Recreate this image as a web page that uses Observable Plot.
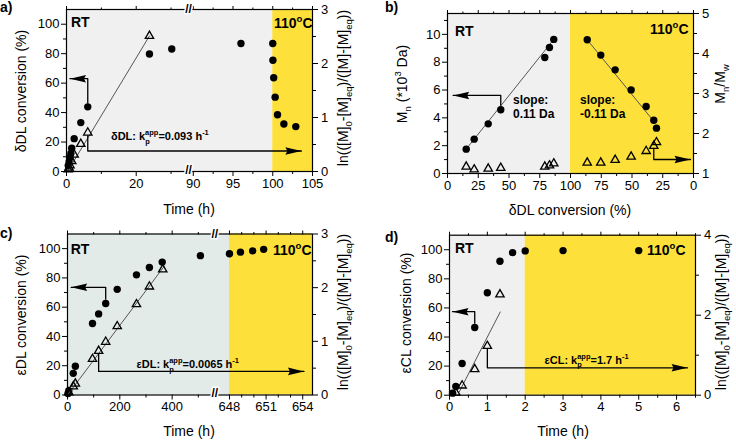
<!DOCTYPE html>
<html><head><meta charset="utf-8">
<script src="https://cdn.jsdelivr.net/npm/d3@7"></script>
<script src="https://cdn.jsdelivr.net/npm/@observablehq/plot@0.6"></script>
<style>
body{margin:0;background:#fff;}
#fig{position:relative;width:736px;height:444px;overflow:hidden;}
.panel{position:absolute;width:368px;height:222px;}
.panel svg{position:absolute;left:0;top:0;}
</style></head><body><div id="fig"></div>
<script>
// ---------- Panel a: δDL, time (h) ----------
const aTime = [0.5, 0.75, 1.0, 1.25, 1.5, 2.2, 4.1, 6.1, 23.8, 30.2, 96, 100, 100.02, 100.12, 100.3, 100.6, 101.4, 102.9];
const aConv = [4, 6.5, 9.5, 12.3, 15.8, 22.3, 33.2, 43.9, 79.8, 83.2, 86.9, 86.9, 75.5, 63.7, 50.5, 38.5, 32.3, 30.5];
const aLnTime = [0.5, 0.75, 1.0, 1.5, 2.2, 4.1, 6.1, 23.8];
const aLn = [0.04, 0.07, 0.11, 0.19, 0.31, 0.51, 0.72, 2.51];
const aFitTime = [0.3, 23.8];
const aFitLn = [0, 2.51];
const aHeatStart = 100, aTimeMax = 105, aBreakLo = 35, aBreakHi = 89.4;
const aXTicks = [0, 20, 90, 95, 100, 105];
const aXMinor = [10, 30, 92.5, 97.5, 102.5];

// ---------- Panel b: Mn and Mn/Mw vs δDL conversion ----------
const bConvRT = [15.2, 21.7, 33.1, 43.3, 79.1, 82.9, 86.4];
const bMnRT = [1.75, 2.47, 3.57, 4.58, 8.34, 9.06, 9.64];
const bPdiRT = [1.17, 1.10, 1.12, 1.14, 1.17, 1.20, 1.25];
const bConvHT = [86.4, 75.4, 63.7, 50.7, 38.5, 32.3, 30.1];
const bMnHT = [9.61, 8.51, 7.45, 6.01, 4.82, 3.83, 3.26];
const bPdiHT = [1.27, 1.27, 1.34, 1.42, 1.56, 1.69, 1.78];
const bFitRTConv = [15.2, 86.4], bFitRTMn = [1.75, 9.64];
const bFitHTConv = [86.4, 31.8], bFitHTMn = [9.61, 3.7];
const bXTicks = [0, 25, 50, 75, 100, 125, 150, 175, 200];
const bXMinor = [12.5, 37.5, 62.5, 87.5, 112.5, 137.5, 162.5, 187.5];

// ---------- Panel c: εDL, time (h) ----------
const cTime = [2, 5, 22, 30, 95.5, 119, 146, 190, 263.6, 313, 362, 508, 648, 648.9, 649.9, 650.8];
const cConv = [1, 2.9, 14.8, 19.6, 48.8, 55.4, 62.5, 72.2, 82.1, 87.1, 90.8, 95.2, 96.5, 97.6, 98.5, 99.5];
const cLnTime = [5, 22, 30, 95.5, 119, 146, 190, 263.6, 313, 364];
const cLn = [0.05, 0.16, 0.21, 0.67, 0.82, 0.99, 1.28, 1.69, 2.02, 2.34];
const cFitTime = [0, 370], cFitLn = [0, 2.4];
const cHeatStart = 648, cTimeMax = 654.8, cBreakLo = 563, cBreakHi = 646.8;
const cXTicks = [0, 200, 400, 648, 651, 654];
const cXMinor = [100, 300, 500, 649, 650, 652, 653];

// ---------- Panel d: εCL, time (h) ----------
const dTime = [0.083, 0.167, 0.333, 0.667, 1, 1.333, 1.667, 2, 3, 5];
const dConv = [1.4, 6, 21.8, 46.5, 70.4, 92.1, 98, 99.2, 99.4, 99.4];
const dLnTime = [0.167, 0.333, 0.667, 1, 1.333];
const dLn = [0.06, 0.24, 0.65, 1.23, 2.52];
const dFitTime = [0.25, 1.34], dFitLn = [0.07, 2.08];
const dHeatStart = 2, dTimeMax = 6.5;
const dXTicks = [0, 1, 2, 3, 4, 5, 6];
const dXMinor = [0.5, 1.5, 2.5, 3.5, 4.5, 5.5, 6.5];

// shared tick lists
const convTicks = [0, 20, 40, 60, 80, 100];
const convMinor = [10, 30, 50, 70, 90];

const FONT = "'Liberation Sans', Arial, Helvetica, sans-serif";
const GRAY = "#f0f0f0", TEAL = "#e3ebe9", YEL = "#fde03a";
const pts = (xs, ys) => xs.map((x, i) => ({x, y: ys[i]}));
const plain = d => String(d);

const headLeft = {draw(c) { c.moveTo(0, 0); c.lineTo(16, -3.8); c.lineTo(14, 0); c.lineTo(16, 3.8); c.closePath(); }};
const headRight = {draw(c) { c.moveTo(0, 0); c.lineTo(-16, -3.8); c.lineTo(-14, 0); c.lineTo(-16, 3.8); c.closePath(); }};

function addText(svg, t) {
  const size = t.size || 14;
  const g = d3.select(svg).append("text")
    .attr("transform", `translate(${t.x},${t.y})${t.rotate ? ` rotate(${t.rotate})` : ""}`)
    .attr("font-family", FONT).attr("font-size", size)
    .attr("font-weight", t.weight || "normal")
    .attr("text-anchor", t.anchor || "start").attr("fill", "black");
  let shift = 0;
  for (const p of t.parts) {
    const [s, kind, back] = Array.isArray(p) ? p : [p];
    const target = kind === "sub" ? 0.32 * size : kind === "sup" ? -0.42 * size : 0;
    const span = g.append("tspan").text(s).attr("dy", target - shift);
    if (kind) span.attr("font-size", 0.68 * size);
    if (back) span.attr("dx", -back * size);
    shift = target;
  }
}

function makePanel(cfg) {
  const host = document.createElement("div");
  host.className = "panel";
  host.style.left = cfg.pos[0] + "px";
  host.style.top = cfg.pos[1] + "px";
  document.getElementById("fig").append(host);
  const [mt, mr, mb, ml] = cfg.margin;
  const base = {width: 368, height: 222, marginTop: mt, marginRight: mr, marginBottom: mb, marginLeft: ml,
    style: {fontFamily: FONT, fontSize: "13px", color: "black", background: "transparent", overflow: "visible"}};
  const xs = {type: "linear", domain: cfg.xDomain, label: null};
  if (cfg.xRange) xs.range = cfg.xRange;
  const yL = cfg.yLeft, yR = cfg.yRight;
  const lower = Plot.plot({
    ...base, x: xs, y: {domain: yL, label: null},
    marks: [
      Plot.rect([cfg.regions[0]], {x1: d => d[0], x2: d => d[1], y1: () => yL[0], y2: () => yL[1], fill: cfg.bg}),
      Plot.rect([cfg.regions[1]], {x1: d => d[0], x2: d => d[1], y1: () => yL[0], y2: () => yL[1], fill: YEL}),
      ...(cfg.leftFits || []).map(f => Plot.line(f, {x: "x", y: "y", stroke: "#555", strokeWidth: 1})),
      Plot.line(cfg.arrowLeft, {x: "x", y: "y", stroke: "black", strokeWidth: 1.3}),
      Plot.dot([cfg.arrowLeft[cfg.arrowLeft.length - 1]], {x: "x", y: "y", symbol: headLeft, fill: "black"}),
      Plot.dot(cfg.circles, {x: "x", y: "y", r: 3.7, fill: "black"}),
      Plot.frame({stroke: "black", strokeWidth: 1.2}),
      Plot.axisX(cfg.xTicks, {anchor: "bottom", tickSize: 5, tickPadding: 2, tickFormat: cfg.xFormat, label: null}),
      Plot.axisX(cfg.xMinor, {anchor: "bottom", tickSize: 3, tickFormat: () => "", label: null}),
      Plot.axisX(cfg.xTicks, {anchor: "top", tickSize: 4, tickFormat: () => "", label: null}),
      Plot.axisX(cfg.xMinor, {anchor: "top", tickSize: 2.5, tickFormat: () => "", label: null}),
      Plot.axisY(cfg.yLTicks, {anchor: "left", tickSize: 5, tickPadding: 2, tickFormat: plain, label: null}),
      Plot.axisY(cfg.yLMinor, {anchor: "left", tickSize: 3, tickFormat: () => "", label: null})
    ]
  });
  const upper = Plot.plot({
    ...base, x: {...xs, axis: null}, y: {domain: yR, label: null},
    marks: [
      ...(cfg.rightFits || []).map(f => Plot.line(f, {x: "x", y: "y", stroke: "#555", strokeWidth: 1})),
      Plot.line(cfg.arrowRight, {x: "x", y: "y", stroke: "black", strokeWidth: 1.3}),
      Plot.dot([cfg.arrowRight[cfg.arrowRight.length - 1]], {x: "x", y: "y", symbol: headRight, fill: "black"}),
      Plot.dot(cfg.triangles, {x: "x", y: "y", r: 3.1, symbol: "triangle", stroke: "black", strokeWidth: 1.3, fill: "none"}),
      Plot.axisY(cfg.yRTicks, {anchor: "right", tickSize: 5, tickPadding: 3.5, tickFormat: plain, label: null}),
      Plot.axisY(cfg.yRMinor, {anchor: "right", tickSize: 3, tickFormat: () => "", label: null}),
      ...(cfg.breakAt != null ? [
        Plot.text([cfg.breakAt], {x: d => d, frameAnchor: "top", lineAnchor: "middle", text: () => "//", fontSize: 12, fontWeight: "bold", fill: "black", stroke: "white", strokeWidth: 3, paintOrder: "stroke"}),
        Plot.text([cfg.breakAt], {x: d => d, frameAnchor: "bottom", lineAnchor: "middle", dy: -1.5, text: () => "//", fontSize: 12, fontWeight: "bold", fill: "black", stroke: "white", strokeWidth: 3, paintOrder: "stroke"})
      ] : [])
    ]
  });
  host.append(lower, upper);
  for (const t of cfg.texts) addText(upper, t);
}

const lnTitle = ["ln(([M]", ["0", "sub"], "-[M]", ["eq", "sub"], ")/([M]-[M]", ["eq", "sub"], "))"];
const deg = ["110", ["o", "sup"], "C"];
const kp = (lab, val) => [lab + ": k", ["p", "sub"], ["app", "sup", 0.42], "=" + val + " h", ["-1", "sup"]];

makePanel({
  pos: [0, 0], margin: [9, 56, 51, 66],
  xDomain: [0, aBreakLo, aBreakHi, aTimeMax], xRange: [66, 188, 188, 312], breakAt: aBreakLo,
  yLeft: [0, 110], yRight: [0, 3], bg: GRAY, regions: [[0, aHeatStart], [aHeatStart, aTimeMax]],
  xTicks: aXTicks, xMinor: aXMinor, xFormat: plain,
  yLTicks: convTicks, yLMinor: convMinor, yRTicks: [0, 1, 2, 3], yRMinor: [0.5, 1.5, 2.5],
  circles: pts(aTime, aConv), triangles: pts(aLnTime, aLn), rightFits: [pts(aFitTime, aFitLn)],
  arrowLeft: pts([6.1, 6.1, 1.0], [46.5, 63, 63]), arrowRight: pts([6.1, 6.1, 103.6], [0.66, 0.38, 0.38]),
  texts: [
    {x: 0, y: 12, parts: ["a)"], size: 14, weight: "bold"},
    {x: 71, y: 26.5, parts: ["RT"], size: 14, weight: "bold"},
    {x: 274, y: 28, parts: deg, size: 14, weight: "bold"},
    {x: 111, y: 140, parts: kp("δDL", "0.093"), size: 11, weight: "bold"},
    {x: 26, y: 91, rotate: -90, anchor: "middle", parts: ["δDL conversion (%)"], size: 14},
    {x: 347.5, y: 88, rotate: -90, anchor: "middle", parts: lnTitle, size: 14},
    {x: 189, y: 214, anchor: "middle", parts: ["Time (h)"], size: 14}
  ]
});

const bCircles = [...pts(bConvRT, bMnRT), ...pts(bConvHT.map(c => 200 - c), bMnHT)];
const bTriangles = [...pts(bConvRT, bPdiRT), ...pts(bConvHT.map(c => 200 - c), bPdiHT)];
makePanel({
  pos: [368, 0], margin: [13, 43, 49, 79],
  xDomain: [0, 200], breakAt: null,
  yLeft: [0, 11.5], yRight: [1, 5], bg: GRAY, regions: [[0, 100], [100, 200]],
  xTicks: bXTicks, xMinor: bXMinor, xFormat: d => String(d <= 100 ? d : 200 - d),
  yLTicks: [0, 2, 4, 6, 8, 10], yLMinor: [1, 3, 5, 7, 9, 11], yRTicks: [1, 2, 3, 4, 5], yRMinor: [1.5, 2.5, 3.5, 4.5],
  circles: bCircles, triangles: bTriangles,
  leftFits: [pts(bFitRTConv, bFitRTMn), pts(bFitHTConv.map(c => 200 - c), bFitHTMn)],
  arrowLeft: pts([43.3, 43.3, 4.6], [4.9, 5.61, 5.61]), arrowRight: pts([167.7, 167.7, 197.6], [1.63, 1.35, 1.35]),
  texts: [
    {x: 17, y: 12, parts: ["b)"], size: 14, weight: "bold"},
    {x: 87, y: 36, parts: ["RT"], size: 14, weight: "bold"},
    {x: 282, y: 33.5, parts: deg, size: 14, weight: "bold"},
    {x: 145, y: 104, parts: ["slope:"], size: 12, weight: "bold"},
    {x: 145, y: 117.5, parts: ["0.11 Da"], size: 12, weight: "bold"},
    {x: 212, y: 104, parts: ["slope:"], size: 12, weight: "bold"},
    {x: 212, y: 117.5, parts: ["-0.11 Da"], size: 12, weight: "bold"},
    {x: 39, y: 84, rotate: -90, anchor: "middle", parts: ["M", ["n", "sub"], " (*10", ["3", "sup"], " Da)"], size: 14},
    {x: 357, y: 84, rotate: -90, anchor: "middle", parts: ["M", ["n", "sub"], "/M", ["w", "sub"]], size: 14},
    {x: 202, y: 215, anchor: "middle", parts: ["δDL conversion (%)"], size: 14}
  ]
});

makePanel({
  pos: [0, 222], margin: [11.5, 56, 49.5, 67],
  xDomain: [0, cBreakLo, cBreakHi, cTimeMax], xRange: [67, 214.3, 214.3, 312], breakAt: cBreakLo,
  yLeft: [0, 110], yRight: [0, 3], bg: TEAL, regions: [[0, cHeatStart], [cHeatStart, cTimeMax]],
  xTicks: cXTicks, xMinor: cXMinor, xFormat: plain,
  yLTicks: convTicks, yLMinor: convMinor, yRTicks: [0, 1, 2, 3], yRMinor: [0.5, 1.5, 2.5],
  circles: pts(cTime, cConv), triangles: pts(cLnTime, cLn), rightFits: [pts(cFitTime, cFitLn)],
  arrowLeft: pts([146, 146, 14], [65.5, 73.6, 73.6]), arrowRight: pts([119, 119, 654.1], [0.76, 0.44, 0.44]),
  texts: [
    {x: 0, y: 16, parts: ["c)"], size: 14, weight: "bold"},
    {x: 70.7, y: 31.5, parts: ["RT"], size: 14, weight: "bold"},
    {x: 273, y: 33, parts: deg, size: 14, weight: "bold"},
    {x: 136.5, y: 146, parts: kp("εDL", "0.0065"), size: 11, weight: "bold"},
    {x: 26, y: 93, rotate: -90, anchor: "middle", parts: ["εDL conversion (%)"], size: 14},
    {x: 347.5, y: 90, rotate: -90, anchor: "middle", parts: lnTitle, size: 14},
    {x: 189, y: 214, anchor: "middle", parts: ["Time (h)"], size: 14}
  ]
});

makePanel({
  pos: [368, 222], margin: [12.7, 41, 49.3, 81],
  xDomain: [0, dTimeMax], breakAt: null,
  yLeft: [0, 110], yRight: [0, 4], bg: GRAY, regions: [[0, dHeatStart], [dHeatStart, dTimeMax]],
  xTicks: dXTicks, xMinor: dXMinor, xFormat: plain,
  yLTicks: convTicks, yLMinor: convMinor, yRTicks: [0, 2, 4], yRMinor: [1, 3],
  circles: pts(dTime, dConv), triangles: pts(dLnTime, dLn), rightFits: [pts(dFitTime, dFitLn)],
  arrowLeft: pts([0.667, 0.667, 0.08], [49.5, 57.4, 57.4]), arrowRight: pts([1, 1, 6.29], [1.15, 0.685, 0.685]),
  texts: [
    {x: 17, y: 20, parts: ["d)"], size: 14, weight: "bold"},
    {x: 87, y: 30.5, parts: ["RT"], size: 14, weight: "bold"},
    {x: 279, y: 33, parts: deg, size: 14, weight: "bold"},
    {x: 176.5, y: 141.5, parts: kp("εCL", "1.7"), size: 11, weight: "bold"},
    {x: 43, y: 91, rotate: -90, anchor: "middle", parts: ["εCL conversion (%)"], size: 14},
    {x: 358, y: 90, rotate: -90, anchor: "middle", parts: lnTitle, size: 14},
    {x: 195, y: 214, anchor: "middle", parts: ["Time (h)"], size: 14}
  ]
});
</script></body></html>
